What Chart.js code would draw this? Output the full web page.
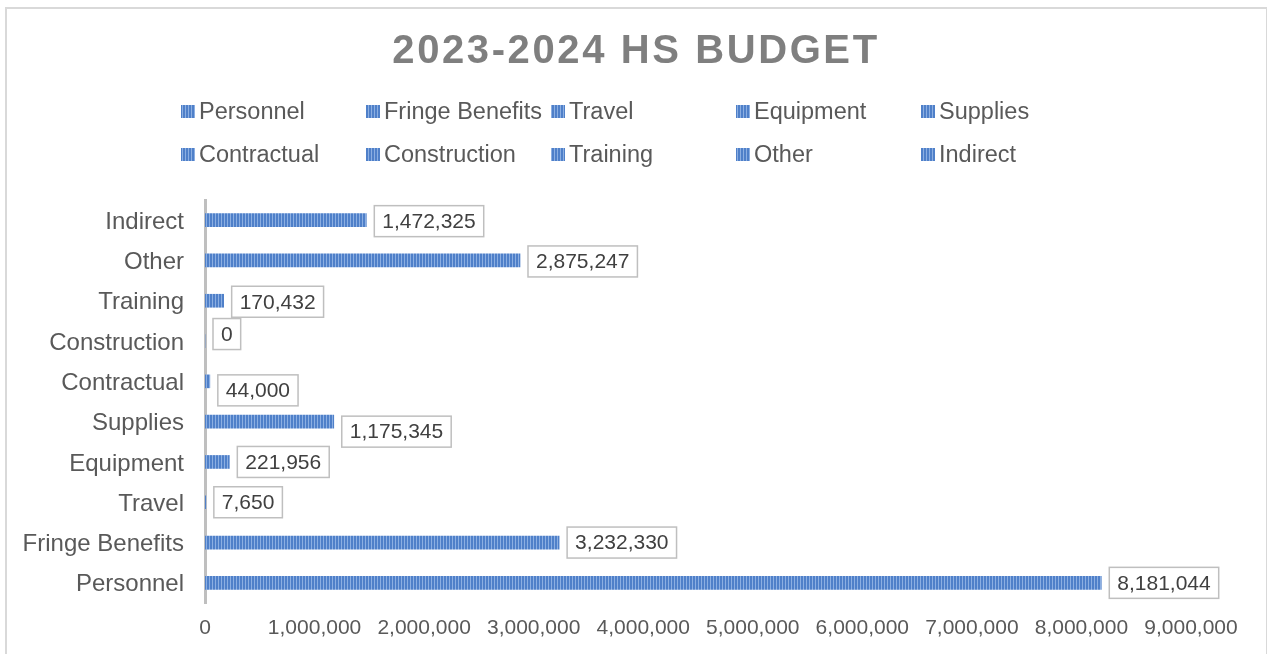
<!DOCTYPE html>
<html>
<head>
<meta charset="utf-8">
<script src="https://cdn.jsdelivr.net/npm/chart.js@4.4.1/dist/chart.umd.min.js"></script>
<style>
  html, body { margin: 0; padding: 0; background: #fff; overflow: hidden; }
  #wrap { position: relative; width: 1267px; height: 654px; }
  #frame { position: absolute; left: 5px; top: 7px; width: 1259px; height: 700px; border: 2px solid #d9d9d9; pointer-events: none; }
</style>
</head>
<body>
<div id="wrap">
  <canvas id="budget"></canvas>
  <div id="frame"></div>
</div>
<script>
const title = '2023-2024 HS BUDGET';
const categories = ['Personnel', 'Fringe Benefits', 'Travel', 'Equipment', 'Supplies',
                    'Contractual', 'Construction', 'Training', 'Other', 'Indirect'];
const amounts = [8181044, 3232330, 7650, 221956, 1175345, 44000, 0, 170432, 2875247, 1472325];
const xMax = 9000000;
const xStep = 1000000;

const family = '"Liberation Sans", Arial, sans-serif';

// blue with thin light vertical stripes, like the Excel fill
function stripes() {
    const c = document.createElement('canvas');
    c.width = 3; c.height = 1;
    const g = c.getContext('2d');
    g.fillStyle = '#4f80c9';
    g.fillRect(0, 0, 3, 1);
    g.fillStyle = '#8cafe2';
    g.fillRect(2, 0, 1, 1);
    return g.createPattern(c, 'repeat');
}
const fill = stripes();

// title + legend in fixed columns
const header = {
    id: 'header',
    beforeDraw(chart) {
        const ctx = chart.ctx;
        ctx.save();
        ctx.fillStyle = '#7f7f7f';
        ctx.font = 'bold 40px ' + family;
        ctx.letterSpacing = '2.6px';
        ctx.textAlign = 'center';
        ctx.textBaseline = 'alphabetic';
        ctx.fillText(title, 636, 63);
        ctx.letterSpacing = '0px';

        ctx.font = '23.5px ' + family;
        ctx.textAlign = 'left';
        ctx.textBaseline = 'middle';
        categories.forEach((name, i) => {
            const x = 181 + (i % 5) * 185;
            const y = 111 + Math.floor(i / 5) * 43;
            ctx.fillStyle = fill;
            ctx.fillRect(x, y - 6, 14, 13);
            ctx.fillStyle = '#595959';
            ctx.fillText(name, x + 18, y + 2);
        });
        ctx.restore();
    }
};

// boxed value labels at the end of each bar
const boxLabels = {
    id: 'boxLabels',
    afterDatasetsDraw(chart, args, opts) {
        const ctx = chart.ctx;
        const meta = chart.getDatasetMeta(0);
        ctx.save();
        ctx.font = '21px ' + family;
        ctx.textAlign = 'left';
        ctx.textBaseline = 'middle';
        meta.data.forEach((bar, i) => {
            const text = amounts[i].toLocaleString('en-US');
            const w = ctx.measureText(text).width + 16;
            const h = 31;
            const x = bar.x + 8;
            const y = bar.y + (opts.nudge[i] || 0) - h / 2;
            ctx.fillStyle = '#ffffff';
            ctx.fillRect(x, y, w, h);
            ctx.strokeStyle = '#bfbfbf';
            ctx.lineWidth = 1.5;
            ctx.strokeRect(x, y, w, h);
            ctx.fillStyle = '#404040';
            ctx.fillText(text, x + 8, y + h / 2 + 1);
        });
        ctx.restore();
    }
};

new Chart(document.getElementById('budget'), {
    type: 'bar',
    data: {
        labels: categories,
        datasets: [{
            data: amounts,
            backgroundColor: fill,
            barThickness: 13
        }]
    },
    options: {
        indexAxis: 'y',
        responsive: true,
        maintainAspectRatio: false,
        animation: false,
        layout: { padding: { top: 200, right: 76, bottom: 0, left: 0 } },
        plugins: {
            legend: { display: false },
            title: { display: false },
            tooltip: { enabled: false },
            boxLabels: { nudge: [0, 0, 0, 0, 10, 9, -7, 1, 1, 1] }
        },
        scales: {
            x: {
                min: 0,
                max: xMax,
                ticks: {
                    stepSize: xStep,
                    padding: 13,
                    color: '#595959',
                    font: { size: 21, family: family },
                    maxRotation: 0,
                    autoSkip: false,
                    callback: v => v.toLocaleString('en-US')
                },
                grid: { display: false, drawTicks: false },
                border: { display: false },
                afterFit: s => { s.height = 51; }
            },
            y: {
                reverse: true,
                ticks: {
                    padding: 21,
                    labelOffset: 2,
                    color: '#595959',
                    font: { size: 24, family: family }
                },
                grid: { display: false, drawTicks: false },
                border: { display: true, color: '#bfbfbf', width: 3 },
                afterFit: s => { s.width = 205; }
            }
        }
    },
    plugins: [header, boxLabels]
});
</script>
</body>
</html>
